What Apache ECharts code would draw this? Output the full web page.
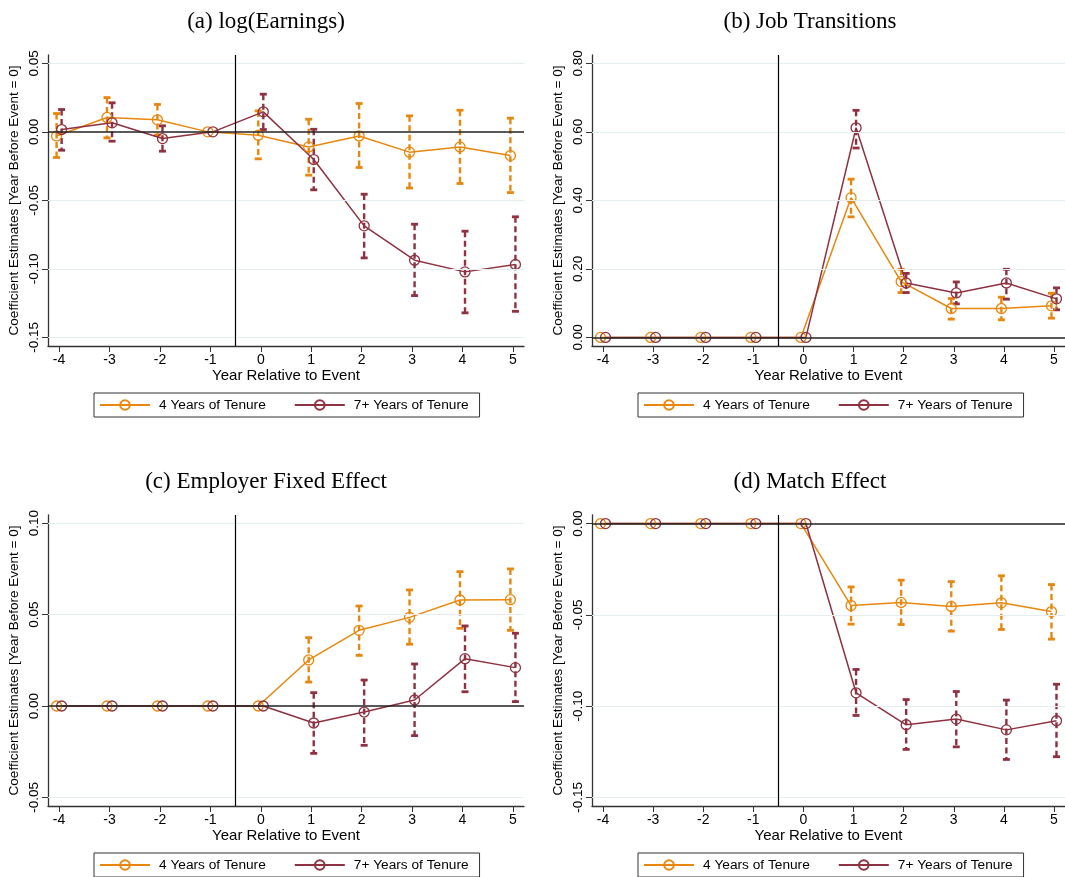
<!DOCTYPE html>
<html>
<head>
<meta charset="utf-8">
<script src="https://cdn.jsdelivr.net/npm/echarts@6/dist/echarts.min.js"></script>
<style>
  html, body { margin: 0; padding: 0; background: #fff; }
  #chart { width: 1065px; height: 877px; }
</style>
</head>
<body>
<div id="chart"></div>
<script>
// years relative to event
const years = [-4, -3, -2, -1, 0, 1, 2, 3, 4, 5];

// (a) log(Earnings)
const earn4 = [-0.003, 0.0105, 0.0088, 0, -0.0024, -0.011, -0.003, -0.0148, -0.011, -0.0173];
const earn4Lo = [-0.0187, -0.0044, -0.0024, null, -0.0197, -0.0316, -0.026, -0.041, -0.0377, -0.0443];
const earn4Hi = [0.0134, 0.025, 0.020, null, 0.0153, 0.0092, 0.0207, 0.0117, 0.0158, 0.010];
const earn7 = [0.0017, 0.0066, -0.0049, 0, 0.0146, -0.0202, -0.0686, -0.0937, -0.1022, -0.0968];
const earn7Lo = [-0.0134, -0.0068, -0.0141, null, 0.0017, -0.0423, -0.092, -0.1195, -0.1321, -0.131];
const earn7Hi = [0.0163, 0.0212, 0.0044, null, 0.0275, 0.0019, -0.0455, -0.0674, -0.0725, -0.062];

// (b) Job Transitions
const jobs4 = [0, 0, 0, 0, 0, 0.408, 0.163, 0.0845, 0.0845, 0.0922];
const jobs4Lo = [null, null, null, null, null, 0.352, 0.131, 0.0534, 0.0515, 0.0563];
const jobs4Hi = [null, null, null, null, null, 0.462, 0.199, 0.1136, 0.1175, 0.129];
const jobs7 = [0, 0, 0, 0, 0, 0.612, 0.159, 0.130, 0.159, 0.1126];
const jobs7Lo = [null, null, null, null, null, 0.553, 0.131, 0.098, 0.1117, 0.0806];
const jobs7Hi = [null, null, null, null, null, 0.663, 0.187, 0.162, 0.199, 0.1447];

// (c) Employer Fixed Effect
const firm4 = [0, 0, 0, 0, 0, 0.0252, 0.0414, 0.0485, 0.058, 0.0582];
const firm4Lo = [null, null, null, null, null, 0.0131, 0.0277, 0.0338, 0.0425, 0.0414];
const firm4Hi = [null, null, null, null, null, 0.0374, 0.0547, 0.0635, 0.0735, 0.075];
const firm7 = [0, 0, 0, 0, 0, -0.0093, -0.0033, 0.0033, 0.0259, 0.021];
const firm7Lo = [null, null, null, null, null, -0.0259, -0.0215, -0.0162, 0.0078, 0.0024];
const firm7Hi = [null, null, null, null, null, 0.0073, 0.0142, 0.023, 0.0438, 0.0398];

// (d) Match Effect
const match4 = [0, 0, 0, 0, 0, -0.0449, -0.0432, -0.0454, -0.0434, -0.0482];
const match4Lo = [null, null, null, null, null, -0.0551, -0.0553, -0.0589, -0.058, -0.0633];
const match4Hi = [null, null, null, null, null, -0.0347, -0.031, -0.0318, -0.0286, -0.0334];
const match7 = [0, 0, 0, 0, 0, -0.0927, -0.1102, -0.1071, -0.113, -0.108];
const match7Lo = [null, null, null, null, null, -0.1051, -0.1237, -0.1223, -0.1292, -0.1277];
const match7Hi = [null, null, null, null, null, -0.0799, -0.0964, -0.092, -0.0967, -0.088];

// tick labels
const ticksA = [-0.15, -0.10, -0.05, 0, 0.05];
const ticksB = [0, 0.2, 0.4, 0.6, 0.8];
const ticksC = [-0.05, 0, 0.05, 0.10];
const ticksD = [-0.15, -0.10, -0.05, 0];

const titles = ['(a) log(Earnings)', '(b) Job Transitions', '(c) Employer Fixed Effect', '(d) Match Effect'];
const names = ['4 Years of Tenure', '7+ Years of Tenure'];

const ORANGE = '#e8870e';
const CRIMSON = '#8e3140';
const SANS = '"Liberation Sans", Arial, Helvetica, sans-serif';
const SERIF = '"Liberation Serif", "Times New Roman", serif';

const panels = [
  { est4: earn4, lo4: earn4Lo, hi4: earn4Hi, est7: earn7, lo7: earn7Lo, hi7: earn7Hi, ticks: ticksA, ymin: -0.1563, ymax: 0.0561, left: 48, top: 55, titleX: 266 },
  { est4: jobs4, lo4: jobs4Lo, hi4: jobs4Hi, est7: jobs7, lo7: jobs7Lo, hi7: jobs7Hi, ticks: ticksB, ymin: -0.025, ymax: 0.8245, left: 592, top: 55, titleX: 810 },
  { est4: firm4, lo4: firm4Lo, hi4: firm4Hi, est7: firm7, lo7: firm7Lo, hi7: firm7Hi, ticks: ticksC, ymin: -0.0547, ymax: 0.1045, left: 48, top: 515, titleX: 266 },
  { est4: match4, lo4: match4Lo, hi4: match4Hi, est7: match7, lo7: match7Lo, hi7: match7Hi, ticks: ticksD, ymin: -0.1547, ymax: 0.0047, left: 592, top: 515, titleX: 810 }
];

function ciItems(lo, hi, shift) {
  const out = [];
  years.forEach((y, i) => {
    if (lo[i] != null && hi[i] != null) out.push([y + shift, lo[i], hi[i]]);
  });
  return out;
}

function ciSeries(idx, data, color) {
  return {
    type: 'custom',
    name: 'ci' + idx + color,
    xAxisIndex: idx,
    yAxisIndex: idx,
    z: 3,
    silent: true,
    data: data,
    renderItem: function (params, api) {
      const x = api.value(0);
      const top = api.coord([x, api.value(2)]);
      const bot = api.coord([x, api.value(1)]);
      const cap = 3.5;
      return {
        type: 'group',
        children: [
          { type: 'line', shape: { x1: top[0], y1: top[1], x2: bot[0], y2: bot[1] },
            style: { stroke: color, lineWidth: 2.4, lineDash: [6, 3.5] } },
          { type: 'line', shape: { x1: top[0] - cap, y1: top[1], x2: top[0] + cap, y2: top[1] },
            style: { stroke: color, lineWidth: 2.8 } },
          { type: 'line', shape: { x1: bot[0] - cap, y1: bot[1], x2: bot[0] + cap, y2: bot[1] },
            style: { stroke: color, lineWidth: 2.8 } }
        ]
      };
    }
  };
}

function lineSeries(idx, name, est, shift, color) {
  return {
    type: 'line',
    name: name,
    xAxisIndex: idx,
    yAxisIndex: idx,
    z: 4,
    data: years.map((y, i) => [y + shift, est[i]]),
    symbol: 'circle',
    symbolSize: 10,
    showSymbol: true,
    itemStyle: { color: 'rgba(255,255,255,0)', borderColor: color, borderWidth: 1.3 },
    lineStyle: { color: color, width: 1.5 },
    emphasis: { disabled: true }
  };
}

const option = {
  animation: false,
  backgroundColor: '#fff',
  title: [],
  legend: [],
  grid: [],
  xAxis: [],
  yAxis: [],
  series: []
};

panels.forEach((p, idx) => {
  option.title.push({
    text: titles[idx],
    left: p.titleX,
    top: p.top - 45,
    textAlign: 'center',
    padding: 0,
    textStyle: { fontFamily: SERIF, fontSize: 23, fontWeight: 'normal', color: '#000' }
  });
  option.grid.push({ left: p.left, top: p.top, width: 476, height: 291, containLabel: false });
  option.xAxis.push({
    gridIndex: idx,
    type: 'value',
    min: -4.22,
    max: 5.22,
    name: 'Year Relative to Event',
    nameLocation: 'middle',
    nameGap: 21,
    nameTextStyle: { fontFamily: SANS, fontSize: 15, color: '#000' },
    axisLine: { show: true, onZero: false, lineStyle: { color: '#333', width: 1.3 } },
    axisTick: { show: true, length: 6, customValues: years, lineStyle: { color: '#333', width: 1 } },
    axisLabel: { customValues: years, fontFamily: SANS, fontSize: 14, color: '#000', margin: 7,
      formatter: v => String(v) },
    splitLine: { show: false }
  });
  option.yAxis.push({
    gridIndex: idx,
    type: 'value',
    min: p.ymin,
    max: p.ymax,
    name: 'Coefficient Estimates [Year Before Event = 0]',
    nameLocation: 'middle',
    nameRotate: 90,
    nameGap: 27,
    nameTextStyle: { fontFamily: SANS, fontSize: 13.5, color: '#000' },
    axisLine: { show: true, onZero: false, lineStyle: { color: '#333', width: 1.3 } },
    axisTick: { show: true, length: 6, customValues: p.ticks, lineStyle: { color: '#333', width: 1 } },
    axisLabel: { customValues: p.ticks, rotate: 90, fontFamily: SANS, fontSize: 13.5, color: '#000', margin: 7,
      formatter: v => v.toFixed(2) },
    splitLine: { show: false }
  });

  // gridlines, zero line and event line
  const refs = p.ticks.filter(t => t !== 0).map(t => ({ yAxis: t, lineStyle: { color: '#e4edf0', width: 1, type: 'solid' } }));
  refs.push({ yAxis: 0, lineStyle: { color: '#222', width: 1.5, type: 'solid' } });
  refs.push({ xAxis: -0.5, lineStyle: { color: '#000', width: 1.2, type: 'solid' } });
  option.series.push({
    type: 'line',
    name: 'refs' + idx,
    xAxisIndex: idx,
    yAxisIndex: idx,
    z: 1,
    data: [],
    markLine: { silent: true, symbol: ['none', 'none'], label: { show: false }, animation: false, data: refs }
  });

  option.series.push(ciSeries(idx, ciItems(p.lo4, p.hi4, -0.05), ORANGE));
  option.series.push(ciSeries(idx, ciItems(p.lo7, p.hi7, 0.05), CRIMSON));
  option.series.push(lineSeries(idx, names[0], p.est4, -0.05, ORANGE));
  option.series.push(lineSeries(idx, names[1], p.est7, 0.05, CRIMSON));

  option.legend.push({
    data: names,
    left: p.left + 46,
    top: p.top + 338,
    orient: 'horizontal',
    itemWidth: 50,
    itemHeight: 12,
    itemGap: 28,
    padding: [5, 11, 5, 5],
    borderColor: '#333',
    borderWidth: 1,
    selectedMode: false,
    textStyle: { fontFamily: SANS, fontSize: 13.7, color: '#000', padding: [0, 0, 0, 4] }
  });
});

const chart = echarts.init(document.getElementById('chart'), null, { renderer: 'canvas' });
chart.setOption(option);
</script>
</body>
</html>
